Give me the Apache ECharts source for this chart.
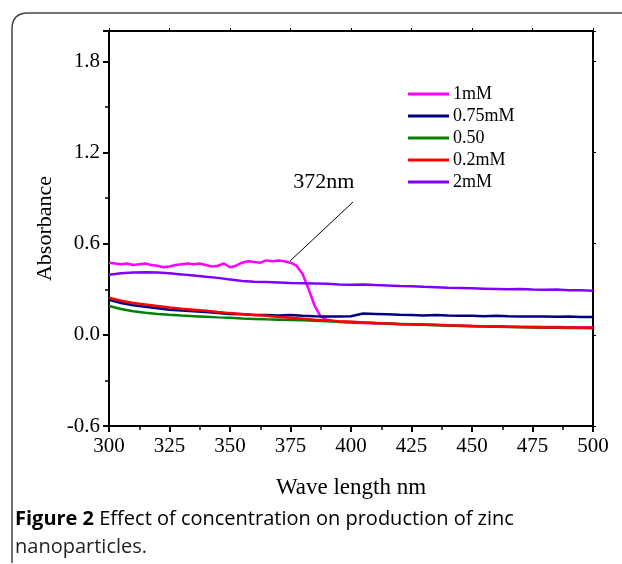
<!DOCTYPE html>
<html>
<head>
<meta charset="utf-8">
<script src="https://cdn.jsdelivr.net/npm/echarts@6/dist/echarts.min.js"></script>
<style>
html,body{margin:0;padding:0;background:#fff;}
#chart{width:622px;height:564px;}
</style>
</head>
<body>
<div id="chart"></div>
<script>
// ---- data ----
var seriesNames = ['1mM', '0.75mM', '0.50', '0.2mM', '2mM'];
var wavelength = [300,305,310,315,320,325,330,335,340,345,350,355,360,365,370,375,380,385,390,395,400,
  405,410,415,420,425,430,435,440,445,450,455,460,465,470,475,480,485,490,495,500];
var wavelength1mM = [300,302.5,305,307.5,310,312.5,315,317.5,320,322.5,325,327.5,330,332.5,335,337.5,340,342.5,345,347.5,
  350,352.5,355,357.5,360,362.5,365,367.5,370,372.5,375,377.5,380,382.5,385,387.5,390,395,400,
  405,410,415,420,425,430,435,440,445,450,455,460,465,470,475,480,485,490,495,500];
var abs1mM = [0.475,0.47,0.465,0.47,0.46,0.465,0.47,0.46,0.455,0.445,0.45,0.46,0.465,0.47,0.465,0.47,0.46,0.45,0.455,0.47,
  0.445,0.455,0.475,0.485,0.48,0.475,0.49,0.485,0.49,0.485,0.475,0.455,0.40,0.30,0.19,0.12,0.10,0.085,0.08,
  0.078,0.075,0.073,0.070,0.068,0.066,0.064,0.062,0.060,0.058,0.057,0.056,0.055,0.054,0.053,0.052,0.051,0.050,0.050,0.050];
var abs075mM = [0.23,0.21,0.195,0.185,0.175,0.165,0.16,0.155,0.15,0.143,0.138,0.135,0.13,0.13,0.128,0.13,0.125,0.122,0.12,0.121,0.122,
  0.14,0.138,0.135,0.132,0.13,0.128,0.13,0.127,0.125,0.126,0.123,0.125,0.122,0.12,0.121,0.12,0.119,0.12,0.118,0.118];
var abs050 = [0.19,0.17,0.155,0.145,0.138,0.132,0.127,0.123,0.119,0.115,0.112,0.108,0.105,0.102,0.10,0.098,0.096,0.093,0.09,0.087,0.084,
  0.081,0.078,0.075,0.072,0.069,0.066,0.063,0.061,0.059,0.057,0.055,0.053,0.051,0.05,0.048,0.047,0.046,0.045,0.045,0.044];
var abs02mM = [0.245,0.225,0.21,0.20,0.19,0.18,0.172,0.165,0.158,0.15,0.143,0.137,0.131,0.125,0.118,0.112,0.106,0.10,0.095,0.09,0.086,
  0.082,0.078,0.075,0.072,0.07,0.068,0.066,0.063,0.061,0.059,0.057,0.055,0.053,0.051,0.05,0.049,0.048,0.048,0.047,0.047];
var abs2mM = [0.395,0.405,0.41,0.412,0.41,0.405,0.398,0.39,0.382,0.375,0.365,0.355,0.35,0.348,0.345,0.342,0.34,0.338,0.336,0.332,0.33,
  0.332,0.328,0.325,0.322,0.32,0.316,0.314,0.31,0.308,0.306,0.304,0.302,0.30,0.301,0.298,0.297,0.298,0.294,0.293,0.29];
var colors = ['#ff00ff', '#000080', '#008000', '#ff0000', '#8000ff'];
var annotationText = '372nm';
var annotationArrow = [[400.8, 0.874], [374.8, 0.486]];
var annotationLabelAt = [388.8, 1.005];
var captionBold = 'Figure 2';
var captionRest = ' Effect of concentration on production of zinc';
var captionLine2 = 'nanoparticles.';

function pairs(xs, ys){ return xs.map(function(x,i){ return [x, ys[i]]; }); }

var allData = [
  pairs(wavelength1mM, abs1mM),
  pairs(wavelength, abs075mM),
  pairs(wavelength, abs050),
  pairs(wavelength, abs02mM),
  pairs(wavelength, abs2mM)
];

var serif = '"Liberation Serif", "Times New Roman", serif';
var sans = '"Open Sans", "Noto Sans", sans-serif';

var series = seriesNames.map(function(name, i){
  var s = {
    name: name, type: 'line', data: allData[i],
    showSymbol: false, symbol: 'none', smooth: false,
    lineStyle: {color: colors[i], width: 2.5},
    itemStyle: {color: colors[i]},
    emphasis: {disabled: true}, z: 2 + i
  };
  if (i === 0) {
    s.markLine = {
      silent: true, animation: false,
      symbol: ['none', 'arrow'], symbolSize: [0, 11],
      lineStyle: {color: '#000', width: 1, type: 'solid'},
      label: {show: false},
      data: [[{coord: annotationArrow[0]}, {coord: annotationArrow[1]}]]
    };
    s.markPoint = {
      silent: true, animation: false, symbol: 'circle', symbolSize: 0,
      label: {show: true, position: 'inside', formatter: annotationText,
        fontFamily: serif, fontSize: 22, color: '#000'},
      data: [{coord: annotationLabelAt}]
    };
  }
  return s;
});

var chart = echarts.init(document.getElementById('chart'), null, {renderer: 'canvas'});
chart.setOption({
  animation: false,
  backgroundColor: '#fff',
  grid: {left: 109, right: 29, top: 31, bottom: 138, containLabel: false},
  legend: {
    orient: 'vertical', left: 408, top: 85, itemWidth: 41, itemHeight: 3, itemGap: 4,
    padding: 0, icon: 'rect',
    data: seriesNames,
    textStyle: {fontFamily: serif, fontSize: 18, lineHeight: 18, color: '#000', padding: [0,0,0,-1]}
  },
  xAxis: [{
    type: 'value', min: 300, max: 500, interval: 25,
    name: 'Wave length nm', nameLocation: 'middle', nameGap: 50,
    nameTextStyle: {fontFamily: serif, fontSize: 23, color: '#000'},
    axisLine: {show: true, onZero: false, lineStyle: {color: '#000', width: 2}},
    axisTick: {show: true, inside: false, length: 6, lineStyle: {color: '#000', width: 2}},
    minorTick: {show: true, splitNumber: 2, length: 4, lineStyle: {color: '#000', width: 1.5}},
    axisLabel: {fontFamily: serif, fontSize: 21, color: '#000', margin: 10},
    splitLine: {show: false}
  }, {
    type: 'value', position: 'top', min: 300, max: 500, interval: 25,
    axisLine: {show: true, onZero: false, lineStyle: {color: '#000', width: 2}},
    axisTick: {show: true, inside: false, length: 3, lineStyle: {color: '#000', width: 1}},
    minorTick: {show: false},
    axisLabel: {show: false}, splitLine: {show: false}
  }],
  yAxis: [{
    type: 'value', min: -0.6, max: 2.0, interval: 0.6,
    name: 'Absorbance', nameLocation: 'middle', nameGap: 48, nameRotate: 90,
    nameTextStyle: {fontFamily: serif, fontSize: 22, color: '#000'},
    axisLine: {show: true, onZero: false, lineStyle: {color: '#000', width: 2}},
    axisTick: {show: true, inside: false, length: 6, lineStyle: {color: '#000', width: 2}},
    minorTick: {show: true, splitNumber: 2, length: 4, lineStyle: {color: '#000', width: 1.5}},
    axisLabel: {fontFamily: serif, fontSize: 21, color: '#000', margin: 9, showMaxLabel: false,
      formatter: function(v){ return v.toFixed(1); }},
    splitLine: {show: false}
  }, {
    type: 'value', position: 'right', min: -0.6, max: 2.0, interval: 0.6,
    axisLine: {show: true, onZero: false, lineStyle: {color: '#000', width: 2}},
    axisTick: {show: true, inside: false, length: 3, lineStyle: {color: '#000', width: 1}},
    axisLabel: {show: false}, splitLine: {show: false}
  }],
  graphic: [
    {type: 'line', silent: true, z: 0, shape: {x1: 12, y1: 563, x2: 12, y2: 29},
      style: {stroke: '#444', lineWidth: 1.5}},
    {type: 'bezierCurve', silent: true, z: 0, shape: {x1: 12, y1: 29, cpx1: 12, cpy1: 13, x2: 28, y2: 13},
      style: {stroke: '#444', lineWidth: 1.5, fill: null}},
    {type: 'line', silent: true, z: 0, shape: {x1: 28, y1: 13, x2: 622, y2: 13},
      style: {stroke: '#444', lineWidth: 1.5}},
    {type: 'text', left: 15, top: 509, silent: true,
      style: {
        text: '{b|' + captionBold + '}{n|' + captionRest + '}',
        rich: {
          b: {fontFamily: sans, fontWeight: 'bold', fontSize: 20, color: '#231f20'},
          n: {fontFamily: sans, fontSize: 20, color: '#231f20'}
        }
      }},
    {type: 'text', left: 15, top: 537, silent: true,
      style: {text: captionLine2, fontFamily: sans, fontSize: 20, fill: '#231f20'}}
  ],
  series: series
});
</script>
</body>
</html>
